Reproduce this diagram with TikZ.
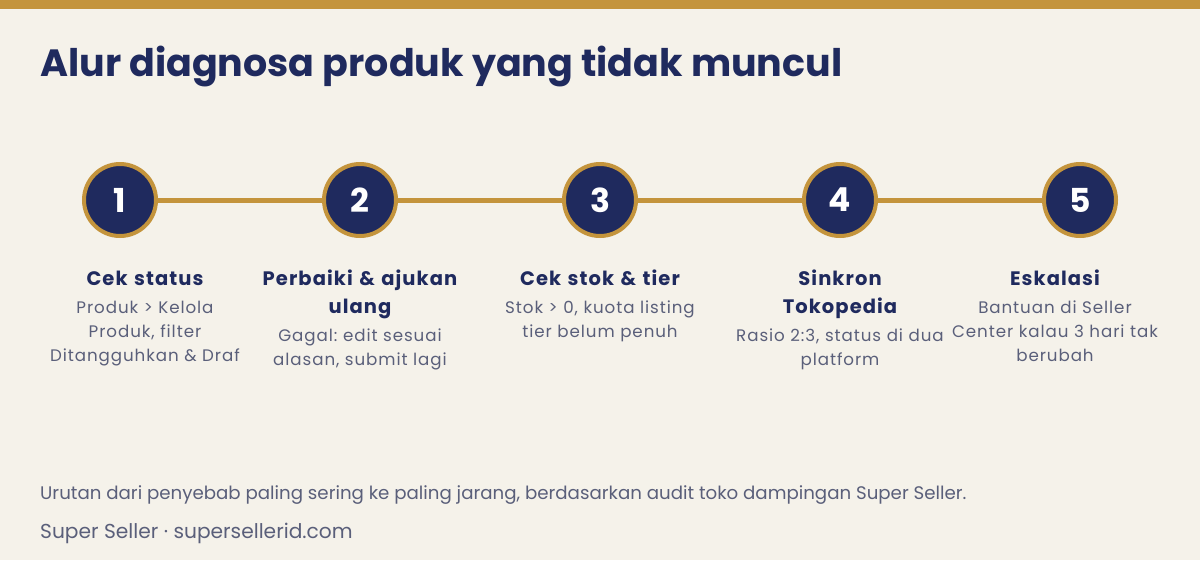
\documentclass[tikz,border=0pt]{standalone}
\usepackage{fontspec}
\setmainfont{Poppins}
\newfontfamily\spacedfont[LetterSpace=5.5]{Poppins}
\usepackage{tikz}
\definecolor{navy}{HTML}{1F2A5E}
\definecolor{gold}{HTML}{C4943C}
\definecolor{paper}{HTML}{F5F2EA}
\definecolor{muted}{HTML}{5A5F7A}
\frenchspacing

\begin{document}
\begin{tikzpicture}[x=1pt, y=-1pt,
  stepdot/.style={circle, draw=gold, line width=4pt, fill=navy, minimum size=72pt,
    inner sep=0pt, text=white, font=\bfseries\fontsize{33}{36}\selectfont},
  rail/.style={draw=gold, line width=5pt},
  steptitle/.style={anchor=base, text width=220pt, align=center, inner sep=0pt,
    text=navy, font=\spacedfont\bfseries\fontsize{19.5}{28}\selectfont},
  stepnote/.style={anchor=base, text width=220pt, align=center, inner sep=0pt,
    text=muted, font=\spacedfont\fontsize{16.7}{24}\selectfont}]
%% background and top bar
\fill [paper] (0,0) rectangle (1200,560);
\useasboundingbox (0,0) rectangle (1200,560);
\fill [gold] (0,0) rectangle (1200,8.5);
\node (heading) at (40,76) [anchor=base west, inner sep=0pt, text=navy,
  font=\bfseries\fontsize{38}{44}\selectfont] {Alur diagnosa produk yang tidak muncul};
%% steps: circle on the rail, title and note below (outer columns pulled in)
\foreach \i/\cx/\ttl/\dsc/\dy in {
  1/145/{Cek status}/{Produk > Kelola\\Produk, filter\\Ditangguhkan \& Draf}/28,
  2/360/{Perbaiki \& ajukan\\ulang}/{Gagal: edit sesuai\\alasan, submit lagi}/56,
  3/600/{Cek stok \& tier}/{Stok > 0, kuota listing\\tier belum penuh}/28,
  4/840/{Sinkron\\Tokopedia}/{Rasio 2:3, status di dua\\platform}/56,
  5/1055/{Eskalasi}/{Bantuan di Seller\\Center kalau 3 hari tak\\berubah}/28}
{
  \node [stepdot] (s\i) at (\i*240-120, 200) {\i};
  \node [steptitle] (t\i) at (\cx, 285) {\ttl};
  \node [stepnote] (d\i) at ([yshift=-\dy pt]t\i.base) {\dsc};
}
%% connectors
\foreach \i [evaluate=\i as \j using int(\i+1)] in {1,...,4}
  \draw [rail] (s\i) -- (s\j);
%% footer
\node (note) at (40,499) [anchor=base west, inner sep=0pt, text=muted,
  font=\fontsize{18.2}{22}\selectfont]
  {Urutan dari penyebab paling sering ke paling jarang, berdasarkan audit toko dampingan Super Seller.};
\node (brand) at (40,538) [anchor=base west, inner sep=0pt, text=muted,
  font=\fontsize{20.2}{24}\selectfont] {Super Seller · supersellerid.com};
\end{tikzpicture}
\end{document}
